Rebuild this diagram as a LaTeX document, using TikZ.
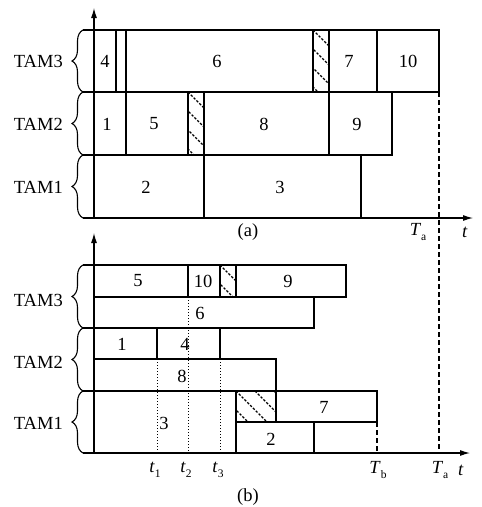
\documentclass[tikz,border=0pt]{standalone}
\usepackage{fontspec}
\setmainfont{Liberation Serif}
\usetikzlibrary{arrows.meta, decorations.pathreplacing}
\tikzset{
  job/.style    ={draw, line width=1.1pt},
  axis/.style   ={-{Latex[length=10pt,width=6pt]}, line width=1.1pt},
  stub/.style   ={line width=1.1pt},
  hatch/.style  ={line width=1.4pt, dash pattern=on 2.4pt off 1.6pt},
  tadash/.style ={line width=1.1pt, dash pattern=on 5pt off 3pt},
  tdot/.style   ={line width=0.9pt, dash pattern=on 0.9pt off 2.1pt},
  tambrace/.style={line width=1.1pt, decorate, decoration={brace, amplitude=11pt}},
  num/.style    ={inner sep=0pt, font=\fontsize{18.5}{21}\selectfont},
  tam/.style    ={inner sep=0pt, anchor=east, font=\fontsize{18.5}{21}\selectfont},
  capt/.style   ={inner sep=0pt, font=\fontsize{18.5}{21}\selectfont},
}
% hatched idle slot: x1, y1, x2, y2
\newcommand{\hatchjob}[4]{%
  \begin{scope}
    \clip (#1,#2) rectangle (#3,#4);
    \foreach \k in {-4,...,3}
      \draw[hatch] ({#1+\k*19},#2) -- ++(80,80);
  \end{scope}
  \draw[job] (#1,#2) rectangle (#3,#4);}
\newcommand{\tsub}[2]{\textit{#1}\raisebox{-0.55ex}{\fontsize{11.5}{12}\selectfont #2}}

\begin{document}
\begin{tikzpicture}[x=1pt,y=-1pt]
  \useasboundingbox (0,0) rectangle (482,507);

  % --- (a) ---
  % TAM3
  \draw[job] (94,30) rectangle (116,92);
  \draw[job] (116,30) rectangle (126,92);
  \draw[job] (126,30) rectangle (313,92);
  \hatchjob{313}{30}{329}{92}
  \draw[job] (329,30) rectangle (377,92);
  \draw[job] (377,30) rectangle (439,92);
  \node[num] (a4)  at (105,61) {4};
  \node[num] (a6)  at (217,61) {6};
  \node[num] (a7)  at (349,61) {7};
  \node[num] (a10) at (408,61) {10};
  % TAM2
  \draw[job] (94,92) rectangle (126,155);
  \draw[job] (126,92) rectangle (188,155);
  \hatchjob{188}{92}{204}{155}
  \draw[job] (204,92) rectangle (329,155);
  \draw[job] (329,92) rectangle (392,155);
  \node[num] (a1) at (107,124) {1};
  \node[num] (a5) at (154,124) {5};
  \node[num] (a8) at (264,124) {8};
  \node[num] (a9) at (357,124) {9};
  % TAM1
  \draw[job] (94,155) rectangle (204,218);
  \draw[job] (204,155) rectangle (361,218);
  \node[num] (a2) at (146,187) {2};
  \node[num] (a3) at (280,187) {3};

  \foreach \y in {30,92,155} \draw[stub] (83,\y) -- (94,\y);
  \draw[axis] (94,218) -- (94,8);
  \draw[axis] (83,218) -- (473,218);
  \draw[tambrace] (83,92) -- (83,30);
  \draw[tambrace] (83,155) -- (83,92);
  \draw[tambrace] (83,218) -- (83,155);
  \node[tam] (atam3) at (63,61) {TAM3};
  \node[tam] (atam2) at (63,124) {TAM2};
  \node[tam] (atam1) at (63,187) {TAM1};
  \node[capt] (ata) at (418,232) {\tsub{T}{a}};
  \node[capt] (at)  at (465,232) {\textit{t}};
  \node[capt] (acap) at (248,232) {(a)};

  % --- (b) ---
  % TAM3
  \draw[job] (94,265) rectangle (188,297);
  \draw[job] (188,265) rectangle (220,297);
  \hatchjob{220}{265}{236}{297}
  \draw[job] (236,265) rectangle (346,297);
  \draw[job] (94,297) rectangle (314,328);
  \node[num] (b5)  at (138,281) {5};
  \node[num] (b10) at (203,281) {10};
  \node[num] (b9)  at (288,281) {9};
  \node[num] (b6)  at (200,313) {6};
  % TAM2
  \draw[job] (94,328) rectangle (157,359);
  \draw[job] (157,328) rectangle (220,359);
  \draw[job] (94,359) rectangle (276,391);
  \node[num] (b1) at (122,344) {1};
  \node[num] (b4) at (185,344) {4};
  \node[num] (b8) at (182,376) {8};
  % TAM1
  \draw[job] (94,391) rectangle (236,453);
  \hatchjob{236}{391}{276}{422}
  \draw[job] (276,391) rectangle (377,422);
  \draw[job] (236,422) rectangle (314,453);
  \node[num] (b3) at (164,423) {3};
  \node[num] (b7) at (324,407) {7};
  \node[num] (b2) at (271,439) {2};

  \draw[tdot] (157,359) -- (157,453);
  \draw[tdot] (188,297) -- (188,453);
  \draw[tdot] (220,359) -- (220,453);
  \draw[tadash] (377,422) -- (377,453);
  \draw[tadash] (439,92) -- (439,453);

  \foreach \y in {265,328,391} \draw[stub] (83,\y) -- (94,\y);
  \draw[axis] (94,453) -- (94,233);
  \draw[axis] (83,453) -- (470,453);
  \draw[tambrace] (83,328) -- (83,265);
  \draw[tambrace] (83,391) -- (83,328);
  \draw[tambrace] (83,453) -- (83,391);
  \node[tam] (btam3) at (63,300) {TAM3};
  \node[tam] (btam2) at (63,362) {TAM2};
  \node[tam] (btam1) at (63,423) {TAM1};
  \node[capt] (bt1) at (155,470) {\tsub{t}{1}};
  \node[capt] (bt2) at (186,470) {\tsub{t}{2}};
  \node[capt] (bt3) at (218,470) {\tsub{t}{3}};
  \node[capt] (btb) at (378,470) {\tsub{T}{b}};
  \node[capt] (bta) at (440,470) {\tsub{T}{a}};
  \node[capt] (bt)  at (461,470) {\textit{t}};
  \node[capt] (bcap) at (248,497) {(b)};
\end{tikzpicture}
\end{document}
